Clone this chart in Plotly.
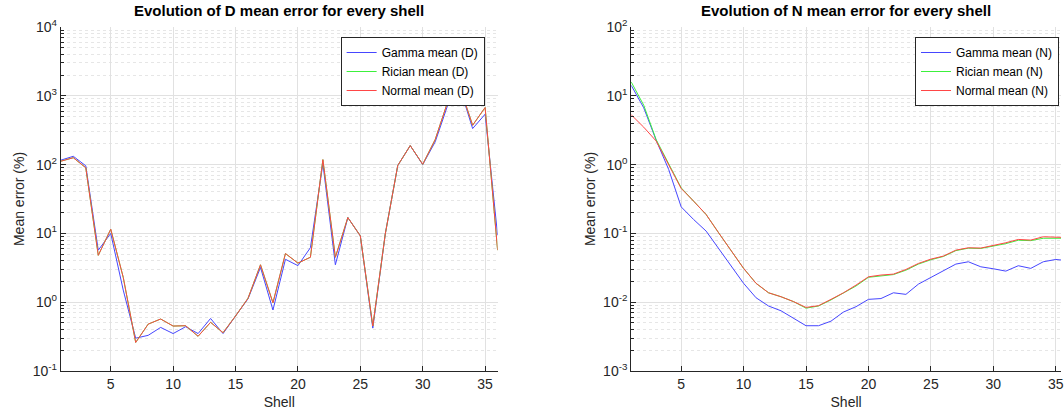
import plotly.graph_objects as go

shells = list(range(1, 37))

D_gamma = [116, 132, 96, 5.7, 10, 1.5, 0.30, 0.33, 0.43, 0.35, 0.44, 0.35, 0.58, 0.35, 0.63, 1.12,
           3.2, 0.77, 4.2, 3.4, 6.2, 103, 3.5, 17, 9.2, 0.42, 9.8, 97, 189, 100, 214, 729, 1280, 334, 540, 9.4]
D_rician = [112, 126, 90, 4.8, 11.5, 2.3, 0.26, 0.48, 0.57, 0.45, 0.455, 0.32, 0.51, 0.36, 0.63, 1.14,
            3.5, 0.98, 5.1, 3.7, 4.5, 118, 4.5, 17, 9.2, 0.45, 9.8, 97, 189, 101, 231, 815, 1300, 373, 675, 5.7]
D_normal = [112, 126, 90, 4.8, 11.5, 2.3, 0.26, 0.48, 0.57, 0.45, 0.455, 0.32, 0.51, 0.36, 0.63, 1.14,
            3.5, 0.98, 5.1, 3.7, 4.5, 118, 4.5, 17, 9.2, 0.45, 9.8, 97, 189, 101, 231, 815, 1300, 373, 675, 5.7]

N_gamma = [14.2, 6.7, 2.26, 0.85, 0.243, 0.159, 0.108, 0.060, 0.0335, 0.0188, 0.0116, 0.0088, 0.0075,
           0.0058, 0.00455, 0.00455, 0.0053, 0.0072, 0.0086, 0.011, 0.0113, 0.0137, 0.0130, 0.0183,
           0.0229, 0.0286, 0.0358, 0.0387, 0.0327, 0.0306, 0.0283, 0.0339, 0.0310, 0.0387, 0.0418, 0.040]
N_rician = [15.9, 7.3, 2.3, 1.05, 0.46, 0.294, 0.188, 0.102, 0.0559, 0.031, 0.0188, 0.0137, 0.012,
            0.0102, 0.0082, 0.0088, 0.0108, 0.0135, 0.0172, 0.0230, 0.0242, 0.0252, 0.0292, 0.0358,
            0.0414, 0.0462, 0.0562, 0.0610, 0.0604, 0.0655, 0.0710, 0.0795, 0.0785, 0.0850, 0.0860, 0.085]
N_normal = [5.3, 3.5, 2.2, 1.0, 0.45, 0.294, 0.188, 0.102, 0.0559, 0.031, 0.0188, 0.0137, 0.012,
            0.0102, 0.0084, 0.0089, 0.011, 0.0137, 0.0177, 0.0234, 0.0248, 0.0256, 0.0299, 0.0366,
            0.0423, 0.0468, 0.0571, 0.0618, 0.0612, 0.0668, 0.0731, 0.0817, 0.0800, 0.0893, 0.0893, 0.087]

x_ticks = [5, 10, 15, 20, 25, 30, 35]
D_yticks = [0.1, 1, 10, 100, 1000, 10000]
D_yticktext = ["10<sup>-1</sup>", "10<sup>0</sup>", "10<sup>1</sup>", "10<sup>2</sup>", "10<sup>3</sup>", "10<sup>4</sup>"]
N_yticks = [0.001, 0.01, 0.1, 1, 10, 100]
N_yticktext = ["10<sup>-3</sup>", "10<sup>-2</sup>", "10<sup>-1</sup>", "10<sup>0</sup>", "10<sup>1</sup>", "10<sup>2</sup>"]

titles = ["Evolution of D mean error for every shell", "Evolution of N mean error for every shell"]
D_names = ["Gamma mean (D)", "Rician mean (D)", "Normal mean (D)"]
N_names = ["Gamma mean (N)", "Rician mean (N)", "Normal mean (N)"]

colors = ["#4646ff", "#3cf03c", "#ff4646"]
FONT = "Liberation Sans, Arial, sans-serif"
AX = "#262626"
GRID = "#e1e1e1"
MINOR = "#e6e6e6"

W, H = 1064, 414
T, B = 27, 43
PH = H - T - B

fig = go.Figure()
for name, ys, c in zip(D_names, [D_gamma, D_rician, D_normal], colors):
    fig.add_trace(go.Scatter(x=shells, y=ys, mode="lines", name=name, line=dict(color=c, width=1),
                             xaxis="x", yaxis="y", legend="legend"))
for name, ys, c in zip(N_names, [N_gamma, N_rician, N_normal], colors):
    fig.add_trace(go.Scatter(x=shells, y=ys, mode="lines", name=name, line=dict(color=c, width=1),
                             xaxis="x2", yaxis="y2", legend="legend2"))


def xaxis(dom, rng, anchor):
    return dict(domain=dom, range=rng, anchor=anchor, tickvals=x_ticks, ticks="inside", ticklen=5,
                tickcolor=AX, showline=True, linecolor=AX, linewidth=1, mirror=False,
                showgrid=True, gridcolor=GRID, gridwidth=1, zeroline=False,
                ticklabeloverflow="allow",
                tickfont=dict(family=FONT, size=14, color=AX),
                title=dict(text="Shell", font=dict(family=FONT, size=14, color=AX), standoff=6))


def yaxis(rng, vals, text, anchor):
    return dict(type="log", range=rng, anchor=anchor, tickvals=vals, ticktext=text, ticks="inside",
                ticklen=5, tickcolor=AX, showline=True, linecolor=AX, linewidth=1, mirror=False,
                showgrid=True, gridcolor=GRID, gridwidth=1, zeroline=False,
                minor=dict(dtick="D1", ticks="inside", ticklen=3, tickcolor=AX, showgrid=True,
                           gridcolor=MINOR, griddash="dot", gridwidth=1),
                tickfont=dict(family=FONT, size=14, color=AX),
                title=dict(text="Mean error (%)", font=dict(family=FONT, size=14, color=AX), standoff=4))


legend_y = 1 - (37 - T) / PH
fig.update_layout(
    width=W, height=H,
    margin=dict(l=0, r=0, t=T, b=B),
    paper_bgcolor="white", plot_bgcolor="white",
    xaxis=xaxis([61 / W, 499 / W], [1, 36], "y"),
    yaxis=yaxis([-1, 4], D_yticks, D_yticktext, "x"),
    xaxis2=xaxis([633 / W, 1.0], [1, 35.42], "y2"),
    yaxis2=yaxis([-3, 2], N_yticks, N_yticktext, "x2"),
    legend=dict(x=486 / W, y=legend_y, xanchor="right", yanchor="top", bgcolor="white",
                bordercolor=AX, borderwidth=1, font=dict(family=FONT, size=12, color="black"),
                tracegroupgap=0),
    legend2=dict(x=1062 / W, y=legend_y, xanchor="right", yanchor="top", bgcolor="white",
                 bordercolor=AX, borderwidth=1, font=dict(family=FONT, size=12, color="black"),
                 tracegroupgap=0),
    showlegend=True,
)

title_y = 1 + (T - 11) / PH
for i, t in enumerate(titles):
    xr = "x domain" if i == 0 else "x2 domain"
    fig.add_annotation(text="<b>" + t + "</b>", xref=xr, x=0.5, yref="paper", y=title_y,
                       showarrow=False, xanchor="center", yanchor="middle",
                       font=dict(family=FONT, size=15, color="black"))

fig.write_html("out.html")
